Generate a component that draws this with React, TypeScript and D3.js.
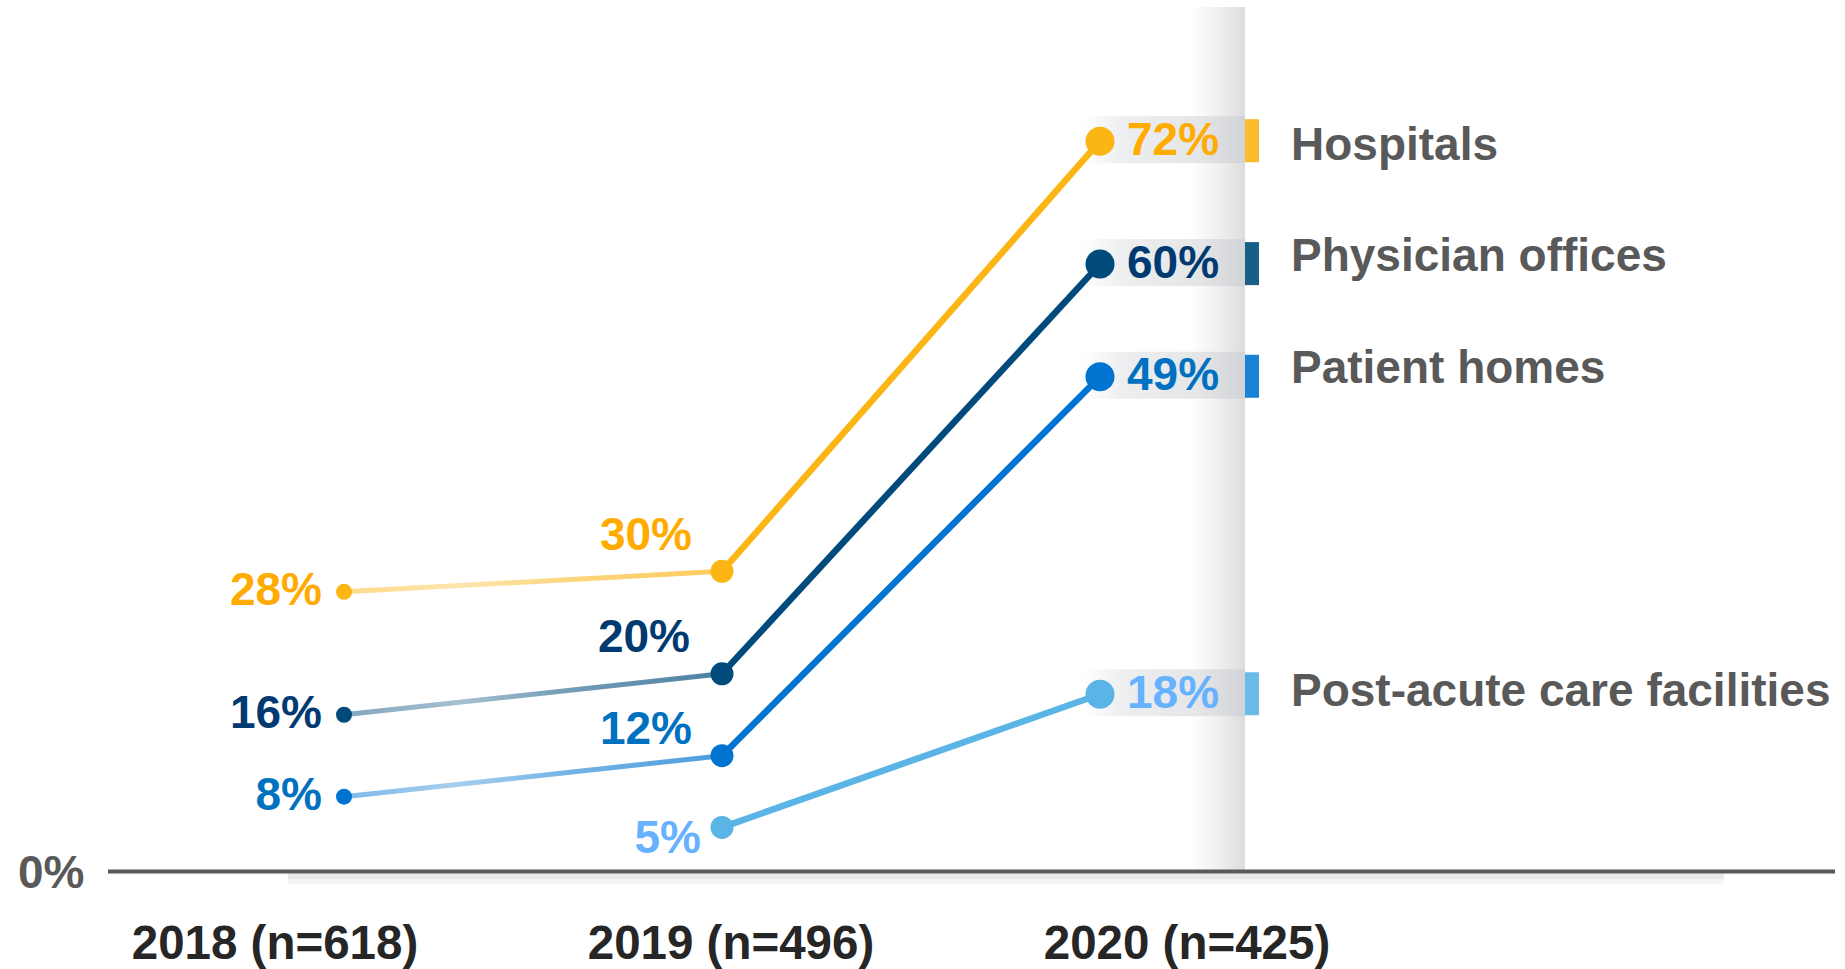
import React from 'react';
import * as d3 from 'd3';

// values
const years = ['2018', '2019', '2020'];
const yearLabels = ['2018 (n=618)', '2019 (n=496)', '2020 (n=425)'];
const seriesNames = ['Hospitals', 'Physician offices', 'Patient homes', 'Post-acute care facilities'];
const hospitals = [28, 30, 72];
const physicianOffices = [16, 20, 60];
const patientHomes = [8, 12, 49];
const postAcute = [null, 5, 18];

const lineColors = ['#FBB514', '#004B7C', '#0074D0', '#5AB4E6'];
const textColors = ['#FFAB00', '#003A70', '#0070C0', '#66B2FF'];

// label placement around the 2019 points: [dx from point to text end, dy of text centre]
const mid2019Offsets = [[-30, -38], [-32, -38], [-30, -28], [-21, 9]];
const legendNudge = [2, -10, -10, -5];

const W = 1845;
const H = 969;
const FONT = '"Liberation Sans", Arial, sans-serif';
const FS = 46;
const capShift = FS * 0.358;

export default function App() {
  const x = d3.scalePoint<string>().domain(years).range([344, 1100]);
  const xLabel = d3.scalePoint<string>().domain(years).range([275, 1187]);
  const y = d3.scaleLinear().domain([0, 72]).range([878.6, 141.2]);
  const allSeries = [hospitals, physicianOffices, patientHomes, postAcute];
  const radii = [8, 11.5, 14.5];
  const axisY = y(0) - 7;
  const bandRight = x('2020')! + 145;

  const line = d3.line<[number, number]>().x(d => d[0]).y(d => d[1]);

  return (
    <div style={{ position: 'absolute', left: 0, top: 0 }}>
      <svg width={W} height={H} style={{ display: 'block', background: '#fff' }}>
        <defs>
          <linearGradient id="band" x1="0" x2="1" y1="0" y2="0">
            <stop offset="0" stopColor="#ffffff" />
            <stop offset="0.5" stopColor="#f1f1f1" />
            <stop offset="1" stopColor="#dcdcdc" />
          </linearGradient>
          <linearGradient id="bandV" x1="0" x2="0" y1="0" y2="1">
            <stop offset="0" stopColor="#fff" stopOpacity="1" />
            <stop offset="0.93" stopColor="#fff" stopOpacity="1" />
            <stop offset="1" stopColor="#fff" stopOpacity="0.4" />
          </linearGradient>
          <mask id="bandMask">
            <rect x={0} y={0} width={W} height={H} fill="url(#bandV)" />
          </mask>
          <linearGradient id="box" x1="0" x2="1" y1="0" y2="0">
            <stop offset="0" stopColor="#eceef0" stopOpacity="0" />
            <stop offset="0.25" stopColor="#eceef0" />
            <stop offset="0.7" stopColor="#e4e6e8" />
            <stop offset="1" stopColor="#d1d3d6" />
          </linearGradient>
          {lineColors.map((c, i) => (
            <linearGradient key={i} id={`fade${i}`} x1="0" x2="1" y1="0" y2="0">
              <stop offset="0" stopColor={c} stopOpacity="0.5" />
              <stop offset="0.3" stopColor={c} stopOpacity="0.35" />
              <stop offset="0.6" stopColor={c} stopOpacity="0.55" />
              <stop offset="1" stopColor={c} stopOpacity="0.7" />
            </linearGradient>
          ))}
        </defs>

        {/* vertical shaded band behind 2020 */}
        <rect x={bandRight - 55} y={7} width={55} height={axisY - 7} fill="url(#band)" mask="url(#bandMask)" />

        {/* axis shadow and line */}
        <rect x={288} y={axisY + 2} width={1436} height={6} fill="#e6e6e6" />
        <rect x={288} y={axisY + 8} width={1436} height={4} fill="#f4f4f4" />
        <line x1={108} x2={1835} y1={axisY} y2={axisY} stroke="#595959" strokeWidth={4} />
        <text x={18} y={axisY + capShift} fontFamily={FONT} fontWeight="bold" fontSize={FS} fill="#595959">0%</text>

        {/* x labels */}
        {years.map((yr, i) => (
          <text key={yr} x={xLabel(yr)} y={942 + 47.5 * 0.358} textAnchor="middle" fontFamily={FONT}
            fontWeight="bold" fontSize={47.5} fill="#262626">{yearLabels[i]}</text>
        ))}

        {/* 2020 label boxes */}
        {allSeries.map((vals, si) => {
          const py = y(vals[2] as number);
          const px = x('2020')!;
          return (
            <g key={`box${si}`}>
              <rect x={px - 17} y={py - 25} width={bandRight - (px - 17)} height={47} fill="url(#box)" />
              <rect x={bandRight} y={py - 22} width={14} height={43} fill={lineColors[si]} opacity={0.9} />
            </g>
          );
        })}

        {/* lines */}
        {allSeries.map((vals, si) => {
          const pts = years.map((yr, i) => (vals[i] == null ? null : [x(yr)!, y(vals[i] as number)] as [number, number]));
          const segs = [];
          if (pts[0] && pts[1]) {
            segs.push(<path key="a" d={line([pts[0], pts[1]])!} stroke={`url(#fade${si})`} strokeWidth={5} fill="none" />);
          }
          if (pts[1] && pts[2]) {
            segs.push(<path key="b" d={line([pts[1], pts[2]])!} stroke={lineColors[si]} strokeWidth={6.5} fill="none" />);
          }
          return <g key={`l${si}`}>{segs}</g>;
        })}

        {/* markers */}
        {allSeries.map((vals, si) => (
          <g key={`m${si}`}>
            {years.map((yr, i) => vals[i] == null ? null : (
              <circle key={yr} cx={x(yr)} cy={y(vals[i] as number)} r={radii[i]} fill={lineColors[si]} />
            ))}
          </g>
        ))}

        {/* value labels */}
        {allSeries.map((vals, si) => {
          const out = [];
          if (vals[0] != null) {
            out.push(
              <text key="v0" x={x('2018')! - 22} y={y(vals[0]) - 3 + capShift} textAnchor="end"
                fontFamily={FONT} fontWeight="bold" fontSize={FS} fill={textColors[si]}>{vals[0]}%</text>
            );
          }
          if (vals[1] != null) {
            const [dx, dy] = mid2019Offsets[si];
            out.push(
              <text key="v1" x={x('2019')! + dx} y={y(vals[1]) + dy + capShift} textAnchor="end"
                fontFamily={FONT} fontWeight="bold" fontSize={FS} fill={textColors[si]}>{vals[1]}%</text>
            );
          }
          if (vals[2] != null) {
            out.push(
              <text key="v2" x={x('2020')! + 27} y={y(vals[2]) - 3 + capShift}
                fontFamily={FONT} fontWeight="bold" fontSize={FS} fill={textColors[si]}>{vals[2]}%</text>
            );
          }
          return <g key={`t${si}`}>{out}</g>;
        })}

        {/* series names */}
        {seriesNames.map((name, si) => {
          const vals = allSeries[si];
          return (
            <text key={name} x={1291} y={y(vals[2] as number) + legendNudge[si] + capShift}
              fontFamily={FONT} fontWeight="bold" fontSize={FS} fill="#595959">{name}</text>
          );
        })}
      </svg>
    </div>
  );
}
